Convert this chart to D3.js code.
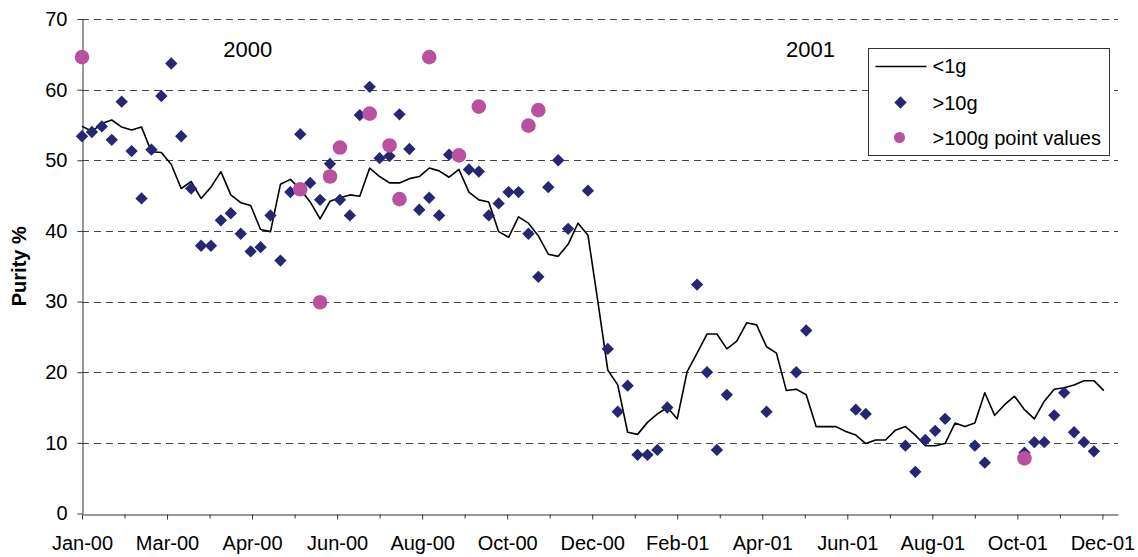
<!DOCTYPE html>
<html>
<head>
<meta charset="utf-8">
<script src="https://cdnjs.cloudflare.com/ajax/libs/d3/7.8.5/d3.min.js"></script>
<style>
  body { margin: 0; background: #fff; }
  svg text { font-family: "Liberation Sans", Arial, sans-serif; }
</style>
</head>
<body>
<div id="chart"></div>
<script>
// weekly series, week 0 = 1 Jan 2000
var lineWeeks = d3.range(0, 104);
var lineValues = [
  54.8, 54.1, 55.2, 55.7, 54.7, 54.3, 54.7, 51.2, 51.1, 49.4,
  46.0, 47.0, 44.6, 46.2, 48.4, 45.1, 44.0, 43.6, 40.2, 39.9,
  46.6, 47.3, 45.9, 44.1, 41.7, 44.2, 44.7, 45.1, 44.9, 48.9,
  47.7, 46.8, 46.8, 47.4, 47.7, 48.9, 48.5, 47.6, 48.7, 45.5,
  44.4, 44.1, 39.9, 39.1, 42.0, 41.1, 39.3, 36.7, 36.4, 38.1,
  41.1, 39.4, 30.0, 20.3, 18.2, 11.5, 11.2, 12.9, 14.1, 15.0,
  13.4, 20.1, 22.7, 25.4, 25.4, 23.3, 24.4, 27.0, 26.7, 23.6,
  22.7, 17.4, 17.6, 16.8, 12.3, 12.3, 12.3, 11.6, 11.1, 9.9,
  10.4, 10.4, 11.8, 12.3, 11.1, 9.6, 9.6, 9.9, 12.8, 12.3,
  12.8, 17.1, 13.9, 15.4, 16.6, 14.7, 13.4, 15.9, 17.6, 17.8,
  18.2, 18.8, 18.8, 17.4
];

var over10Weeks = [0, 1, 2, 3, 4, 5, 6, 7, 8, 9, 10, 11, 12, 13, 14, 15, 16, 17, 18, 19,
  20, 21, 22, 23, 24, 25, 26, 27, 28, 29, 30, 31, 32, 33, 34, 35, 36, 37, 39, 40,
  41, 42, 43, 44, 45, 46, 47, 48, 49, 51, 53, 54, 55, 56, 57, 58, 59, 62, 63, 64,
  65, 69, 72, 73, 78, 79, 83, 84, 85, 86, 87, 90, 91, 95, 96, 97, 98, 99, 100, 101, 102];
var over10Values = [53.4, 54.0, 54.8, 52.9, 58.3, 51.3, 44.6, 51.5, 59.1, 63.7, 53.4, 46.0, 37.9, 37.9, 41.5, 42.5, 39.6, 37.1, 37.7, 42.2,
  35.8, 45.5, 53.7, 46.8, 44.4, 49.5, 44.4, 42.2, 56.4, 60.4, 50.3, 50.6, 56.5, 51.6, 43.0, 44.7, 42.2, 50.8, 48.7, 48.4,
  42.2, 43.9, 45.5, 45.5, 39.6, 33.5, 46.2, 50.0, 40.3, 45.7, 23.3, 14.4, 18.1, 8.3, 8.3, 9.0, 15.0, 32.4, 20.0, 9.0,
  16.8, 14.4, 20.0, 25.9, 14.7, 14.1, 9.6, 5.9, 10.4, 11.7, 13.4, 9.6, 7.2, 8.6, 10.1, 10.1, 13.9, 17.1, 11.5, 10.1, 8.8];

var over100Weeks = [0, 22, 24, 25, 26, 29, 31, 32, 35, 38, 40, 45, 46, 95];
var over100Values = [64.6, 45.9, 29.9, 47.7, 51.8, 56.6, 52.1, 44.5, 64.6, 50.7, 57.6, 54.9, 57.1, 7.8];

var yTicks = [0, 10, 20, 30, 40, 50, 60, 70];
var seriesNames = ["<1g", ">10g", ">100g point values"];
var yearLabels = [{ text: "2000", week: 16.7 }, { text: "2001", week: 73.4 }];

var width = 1138, height = 557;
var margin = { top: 19, right: 20, bottom: 43.5, left: 82 };
var diamondColor = "#262673";
var pinkColor = "#B8529F";

var start = new Date(Date.UTC(2000, 0, 1));
var end = new Date(Date.UTC(2002, 0, 1));
function weekDate(w) { return d3.utcDay.offset(start, Math.round(w * 7)); }

var svg = d3.select("#chart").append("svg")
  .attr("width", width)
  .attr("height", height);

var x = d3.scaleUtc().domain([start, end]).range([margin.left, width - margin.right]);
var y = d3.scaleLinear().domain([0, 70]).range([height - margin.bottom, margin.top]);

// dashed grid lines
svg.append("g")
  .selectAll("line")
  .data(yTicks.filter(function (d) { return d > 0; }))
  .enter().append("line")
  .attr("x1", margin.left)
  .attr("x2", width - margin.right)
  .attr("y1", function (d) { return Math.round(y(d)) + 0.5; })
  .attr("y2", function (d) { return Math.round(y(d)) + 0.5; })
  .attr("stroke", "#444")
  .attr("stroke-width", 1)
  .attr("stroke-dasharray", "7,5");

// axes
var majorDays = d3.range(0, 721, 60).map(function (d) { return d3.utcDay.offset(start, d); });
var minorDays = d3.range(30, 721, 60).map(function (d) { return d3.utcDay.offset(start, d); });

svg.append("g")
  .attr("transform", "translate(" + (margin.left + 0.5) + ",0)")
  .call(d3.axisLeft(y).tickValues(yTicks).tickSize(5).tickSizeOuter(0).tickPadding(10));

svg.append("g")
  .attr("transform", "translate(0," + (Math.round(y(0)) + 0.5) + ")")
  .call(d3.axisBottom(x).tickValues(majorDays).tickFormat(d3.utcFormat("%b-%y"))
    .tickSize(5).tickSizeOuter(0).tickPadding(16));

svg.append("g")
  .attr("transform", "translate(0," + (Math.round(y(0)) + 0.5) + ")")
  .call(d3.axisBottom(x).tickValues(minorDays).tickFormat("").tickSize(4).tickSizeOuter(0))
  .select(".domain").remove();

svg.selectAll(".domain").attr("stroke", "#333");
svg.selectAll(".tick line").attr("stroke", "#333");
svg.selectAll(".tick text")
  .attr("font-size", 20)
  .attr("fill", "#000")
  .style("font-family", "'Liberation Sans', Arial, sans-serif");

// y title
svg.append("text")
  .attr("transform", "translate(25.5," + ((margin.top + height - margin.bottom) / 2) + ") rotate(-90)")
  .attr("text-anchor", "middle")
  .attr("font-size", 20)
  .attr("font-weight", "bold")
  .text("Purity %");

// year annotations
svg.selectAll(".year")
  .data(yearLabels)
  .enter().append("text")
  .attr("class", "year")
  .attr("x", function (d) { return x(weekDate(d.week)); })
  .attr("y", 57)
  .attr("text-anchor", "middle")
  .attr("font-size", 22)
  .text(function (d) { return d.text; });

// <1g line
var lineData = lineWeeks.map(function (w, i) { return { date: weekDate(w), value: lineValues[i] }; });
svg.append("path")
  .datum(lineData)
  .attr("fill", "none")
  .attr("stroke", "#000")
  .attr("stroke-width", 1.6)
  .attr("stroke-linejoin", "round")
  .attr("d", d3.line()
    .x(function (d) { return x(d.date); })
    .y(function (d) { return y(d.value); }));

// >10g diamonds
var diamond = d3.symbol().type(d3.symbolSquare).size(76);
svg.append("g")
  .selectAll("path")
  .data(over10Weeks.map(function (w, i) { return { date: weekDate(w), value: over10Values[i] }; }))
  .enter().append("path")
  .attr("d", diamond)
  .attr("fill", diamondColor)
  .attr("transform", function (d) {
    return "translate(" + x(d.date) + "," + y(d.value) + ") rotate(45)";
  });

// >100g circles
svg.append("g")
  .selectAll("circle")
  .data(over100Weeks.map(function (w, i) { return { date: weekDate(w), value: over100Values[i] }; }))
  .enter().append("circle")
  .attr("cx", function (d) { return x(d.date); })
  .attr("cy", function (d) { return y(d.value); })
  .attr("r", 7.3)
  .attr("fill", pinkColor);

// legend
var lg = svg.append("g").attr("transform", "translate(868.5,48.5)");
lg.append("rect")
  .attr("width", 241)
  .attr("height", 107)
  .attr("fill", "#fff")
  .attr("stroke", "#333");
lg.append("line")
  .attr("x1", 7).attr("x2", 58)
  .attr("y1", 18).attr("y2", 18)
  .attr("stroke", "#000").attr("stroke-width", 1.6);
lg.append("path")
  .attr("d", diamond)
  .attr("fill", diamondColor)
  .attr("transform", "translate(32,54) rotate(45)");
lg.append("circle")
  .attr("cx", 31).attr("cy", 89).attr("r", 5.5)
  .attr("fill", pinkColor);
lg.selectAll(".lbl")
  .data(seriesNames)
  .enter().append("text")
  .attr("class", "lbl")
  .attr("x", 64)
  .attr("y", function (d, i) { return [24, 61, 96][i]; })
  .attr("font-size", 20)
  .text(function (d) { return d; });
</script>
</body>
</html>
